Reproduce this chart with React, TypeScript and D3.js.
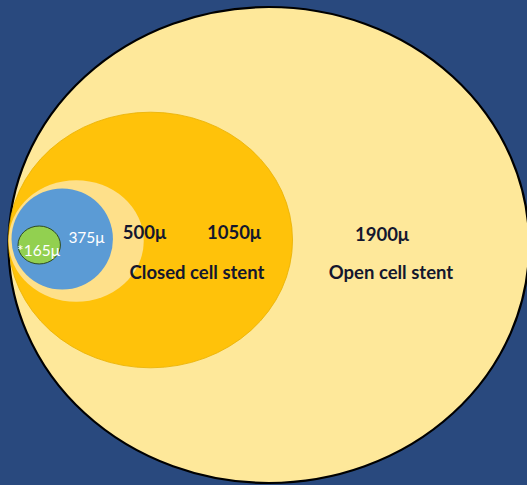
import React from "react";
import * as d3 from "d3";

// Data
const diameters = [1900, 1050, 500, 375, 165];
const sizeLabels = ["1900μ", "1050μ", "500μ", "375μ", "*165μ"];
const stentTypes = ["Open cell stent", "Closed cell stent"];

const W = 527;
const H = 485;

export default function App() {
  const r = d3.scaleLinear().domain([0, 1900]).range([0, 257]);

  const fills = ["#FEE89A", "#FFC20A", "#FEE08A", "#5B9BD5", "#92D050"];
  const strokes = ["#000000", "#E8B000", "none", "none", "#2E4A22"];
  const strokeW = [2.2, 0.8, 0, 0, 1];
  // presentation: horizontal stretch and vertical squash of each outline
  const stretch = [1.013, 1, 1, 1, 0.95];
  const aspect = [0.926, 0.9, 0.9, 0.996, 0.85];
  const leftEdge = 8.5;
  const cys = [245, 240, 241, 239, 245];
  const leftInset = [0, 0, 0, 3, 9.5];

  const ellipses = diameters.map((d, i) => {
    const a = r(d) * stretch[i];
    const b = r(d) * aspect[i];
    const cx = leftEdge + leftInset[i] + a;
    return { d, a, b, cx, cy: cys[i], i };
  });

  const font = "Lato, 'Open Sans', sans-serif";
  const dark = "#14172E";

  const labelPos = [
    { x: 382, y: 241, color: dark, weight: 700, size: 18.5 },
    { x: 234, y: 239, color: dark, weight: 700, size: 18.5 },
    { x: 144.5, y: 239, color: dark, weight: 700, size: 18.5 },
    { x: 86.5, y: 243, color: "#FFFFFF", weight: 400, size: 15.5 },
    { x: 38.5, y: 256, color: "#FFFFFF", weight: 400, size: 15.5 },
  ];
  const typePos = [
    { x: 391, y: 279 },
    { x: 197, y: 279 },
  ];

  return (
    <div style={{ position: "fixed", left: 0, top: 0, width: W, height: H }}>
      <svg width={W} height={H} style={{ display: "block" }}>
        <rect x={0} y={0} width={W} height={H} fill="#29497E" />
        {ellipses.map((e) => (
          <ellipse
            key={e.d}
            cx={e.cx}
            cy={e.cy}
            rx={e.a}
            ry={e.b}
            fill={fills[e.i]}
            stroke={strokes[e.i]}
            strokeWidth={strokeW[e.i]}
          />
        ))}
        {sizeLabels.map((t, i) => (
          <text
            key={t}
            x={labelPos[i].x}
            y={labelPos[i].y}
            textAnchor="middle"
            fill={labelPos[i].color}
            fontWeight={labelPos[i].weight}
            fontSize={labelPos[i].size}
            fontFamily={font}
          >
            {t}
          </text>
        ))}
        {stentTypes.map((t, i) => (
          <text
            key={t}
            x={typePos[i].x}
            y={typePos[i].y}
            textAnchor="middle"
            fill={dark}
            fontWeight={700}
            fontSize={18.5}
            fontFamily={font}
          >
            {t}
          </text>
        ))}
      </svg>
    </div>
  );
}
